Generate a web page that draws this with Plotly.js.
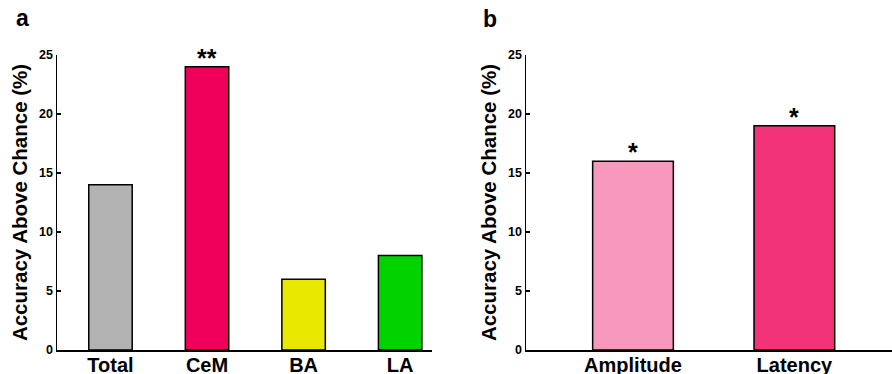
<!DOCTYPE html>
<html>
<head>
<meta charset="utf-8">
<script src="https://cdn.plot.ly/plotly-3.0.1.min.js"></script>
<style>html,body{margin:0;padding:0;background:#fff;}#chart{width:892px;height:374px;}</style>
</head>
<body>
<div id="chart"></div>
<script>
// Panel a
const regions = ["Total", "CeM", "BA", "LA"];
const regionAccuracy = [14, 24, 6, 8];
const regionColors = ["#b3b3b3", "#f0005a", "#e8e800", "#00d300"];
const regionStars = ["", "**", "", ""];
// Panel b
const features = ["Amplitude", "Latency"];
const featureAccuracy = [16, 19];
const featureColors = ["#f898bd", "#f33378"];
const featureStars = ["*", "*"];
const yTicks = [0, 5, 10, 15, 20, 25];
const yTitle = "Accuracy Above Chance (%)";

const fontFam = "Liberation Sans, Arial, Helvetica, sans-serif";

const traces = [
  {
    type: "bar", x: regions, y: regionAccuracy, xaxis: "x", yaxis: "y",
    width: 0.45,
    marker: {color: regionColors, line: {color: "#000", width: 1.5}},
    hoverinfo: "none"
  },
  {
    type: "bar", x: features, y: featureAccuracy, xaxis: "x2", yaxis: "y2",
    width: 0.5,
    marker: {color: featureColors, line: {color: "#000", width: 1.5}},
    hoverinfo: "none"
  }
];

const yBottom = (374 - 350) / 374, yTop = (374 - 55) / 374;

function yaxisDef(anchor) {
  return {
    anchor: anchor, domain: [yBottom, yTop], range: [0, 25],
    tickvals: yTicks, ticktext: yTicks.map(String),
    ticks: "inside", ticklen: 4, tickwidth: 1.2, tickcolor: "#000",
    showline: true, linecolor: "#000", linewidth: 1.5,
    showgrid: false, zeroline: false,
    tickfont: {family: fontFam, size: 12.5, color: "#000", weight: "bold"},
    title: {text: "<b>" + yTitle + "</b>", font: {family: fontFam, size: 20.5, color: "#000"}, standoff: 6}
  };
}

function xaxisDef(anchor, domain, range) {
  return {
    anchor: anchor, domain: domain, range: range, type: "category",
    showline: true, linecolor: "#000", linewidth: 1.5,
    ticks: "", showgrid: false, zeroline: false,
    ticklabelstandoff: -4,
    tickfont: {family: fontFam, size: 20, color: "#000", weight: "bold"}
  };
}

const starAnn = [];
regions.forEach((r, i) => {
  if (regionStars[i]) starAnn.push({text: "<b>" + regionStars[i] + "</b>", xref: "x", yref: "y", x: r, y: regionAccuracy[i], xanchor: "center", yanchor: "bottom", yshift: -7, showarrow: false, font: {family: fontFam, size: 25, color: "#000"}});
});
features.forEach((f, i) => {
  if (featureStars[i]) starAnn.push({text: "<b>" + featureStars[i] + "</b>", xref: "x2", yref: "y2", x: f, y: featureAccuracy[i], xanchor: "center", yanchor: "bottom", yshift: -7, showarrow: false, font: {family: fontFam, size: 25, color: "#000"}});
});

const layout = {
  width: 892, height: 374,
  margin: {l: 0, r: 0, t: 0, b: 0},
  paper_bgcolor: "#fff", plot_bgcolor: "#fff",
  showlegend: false,
  xaxis: xaxisDef("y", [57/892, 432/892], [-0.554, 3.33]),
  yaxis: yaxisDef("x"),
  xaxis2: xaxisDef("y2", [526/892, 1], [-0.663, 1.605]),
  yaxis2: yaxisDef("x2"),
  annotations: [
    {text: "<b>a</b>", xref: "paper", yref: "paper", x: 22/892, y: 1 - 18/374, xanchor: "center", yanchor: "middle", showarrow: false, font: {family: fontFam, size: 23, color: "#000"}},
    {text: "<b>b</b>", xref: "paper", yref: "paper", x: 490/892, y: 1 - 19/374, xanchor: "center", yanchor: "middle", showarrow: false, font: {family: fontFam, size: 23, color: "#000"}}
  ].concat(starAnn)
};

Plotly.newPlot("chart", traces, layout, {displayModeBar: false, staticPlot: true});
</script>
</body>
</html>
